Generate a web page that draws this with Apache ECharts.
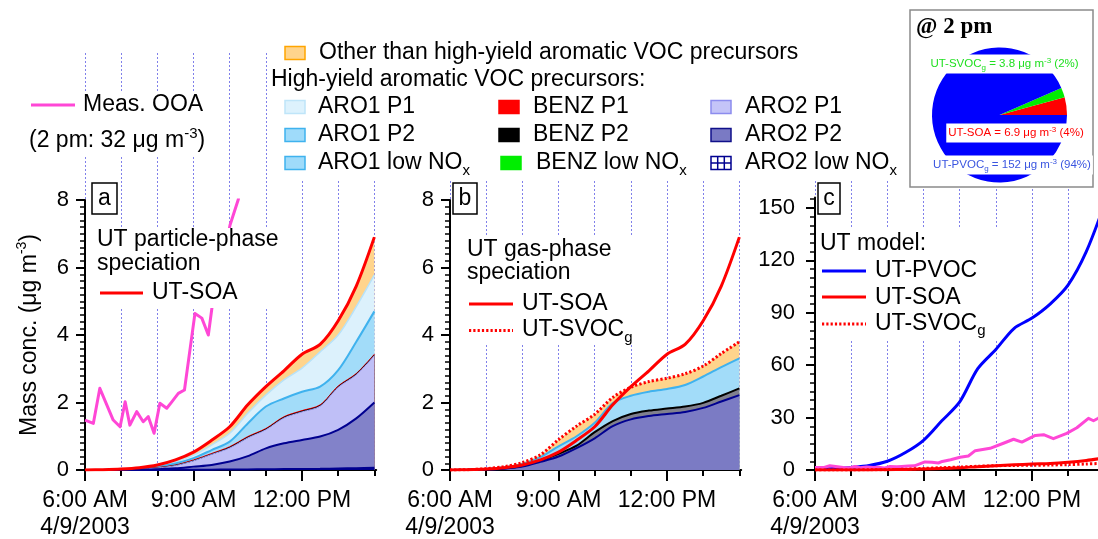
<!DOCTYPE html>
<html><head><meta charset="utf-8">
<script src="https://cdn.jsdelivr.net/npm/echarts@6/dist/echarts.min.js"></script>
<style>html,body{margin:0;padding:0;background:#fff}#c{width:1098px;height:539px}</style>
</head><body><div id="c"></div>
<script>
// ---- time (hours of day, 4/9/2003) ----
const T = [6,6.5,7,7.5,8,8.5,9,9.5,10,10.5,11,11.5,12,12.5,13,13.5,14];

// ---- panel a: UT particle-phase speciation (cumulative layer tops, ug m-3) ----
const UT_SOA     = [0,0.01,0.03,0.07,0.15,0.30,0.53,0.88,1.28,1.93,2.47,2.94,3.43,3.72,4.42,5.45,6.9];
const A_ARO1_P1  = [0,0.01,0.02,0.05,0.11,0.24,0.44,0.74,1.09,1.68,2.22,2.67,3.02,3.50,4.00,4.84,5.78];
const A_ARO1_P2  = [0,0.005,0.015,0.04,0.09,0.19,0.35,0.59,0.84,1.38,1.88,2.12,2.32,2.47,2.96,3.80,4.70];
const A_BENZ_P1  = [0,0.004,0.012,0.03,0.07,0.15,0.30,0.49,0.69,0.99,1.23,1.58,1.76,1.93,2.49,2.86,3.43];
const A_BENZ_P2  = [0,0.004,0.011,0.028,0.065,0.14,0.28,0.47,0.67,0.97,1.21,1.56,1.74,1.91,2.47,2.84,3.41];
const A_ARO2_P1  = [0,0.003,0.01,0.025,0.06,0.13,0.27,0.46,0.65,0.95,1.19,1.54,1.72,1.89,2.45,2.82,3.39];
const A_ARO2_P2  = [0,0.001,0.004,0.01,0.02,0.05,0.10,0.15,0.25,0.41,0.64,0.79,0.89,0.99,1.19,1.53,2.0];
const A_ARO2_LOW = [0,0,0,0,0.002,0.004,0.006,0.01,0.014,0.018,0.022,0.026,0.03,0.035,0.045,0.055,0.07];

// ---- panel b: UT gas-phase speciation (cumulative layer tops) ----
const UT_SVOC    = [0,0.01,0.04,0.10,0.22,0.45,0.90,1.30,1.65,2.15,2.45,2.62,2.72,2.85,3.08,3.45,3.8];
const B_ARO1     = [0,0.01,0.03,0.08,0.18,0.38,0.70,1.00,1.40,1.98,2.20,2.32,2.40,2.52,2.77,3.05,3.31];
const B_BENZ_P2  = [0,0.005,0.02,0.05,0.12,0.28,0.48,0.72,1.12,1.45,1.66,1.76,1.82,1.88,1.99,2.20,2.42];
const B_ARO2_P2  = [0,0.005,0.015,0.04,0.10,0.24,0.40,0.65,0.94,1.30,1.50,1.60,1.66,1.72,1.84,2.03,2.22];

// ---- panel c: UT model ----
const UT_PVOC    = [0.5,0.8,1.5,2.6,5,10,17,28,39,58,69,81,87,95,106,125,152];

// ---- measured OOA ----
const OOA_T = [6.0,6.23,6.41,6.78,6.97,7.11,7.24,7.43,7.61,7.75,7.91,8.07,8.26,8.40,8.58,8.75,9.04,9.23,9.41,9.52,9.75,10.01,10.24,10.43,10.84,11.21,11.49,11.72,12.09,12.32,12.59,12.96,13.24,13.56,13.70,13.83,14.0];
const OOA_V = [1.48,1.38,2.42,1.48,1.28,2.02,1.33,1.73,1.43,1.58,1.09,1.98,1.83,2.02,2.27,2.37,4.64,4.50,4.00,4.89,5.9,7.26,8.02,11.07,12.4,15.3,17.6,16.0,19.8,20.2,17.9,21.0,24.2,29.6,28.2,29.6,32];

// ---- axis tick labels ----
const X_LABELS = {6: '6:00 AM\n4/9/2003', 9: '9:00 AM', 12: '12:00 PM'};
const X_LABEL_VALUES = [6, 9, 12];
const X_HOUR_TICKS = [6,7,8,9,10,11,12,13,14];
const C_TICKS = [0,30,60,90,120,150];

const FF = '"Liberation Sans", Arial, Helvetica, sans-serif';
const SERIF = '"Liberation Serif", "Times New Roman", serif';
const ORANGE = '#ffd48c';
const SM = 0.3;
const pair = (xs, ys) => xs.map((x, i) => [x, ys[i]]);
const last = a => a[a.length - 1];

function xMain(gi) {
  return {type:'value', gridIndex:gi, position:'bottom', min:6, max:14.05,
    axisLine:{show:true, onZero:false, lineStyle:{color:'#000', width:2}},
    axisTick:{show:true, customValues:X_LABEL_VALUES, length:11, lineStyle:{color:'#000', width:2}},
    axisLabel:{show:true, customValues:X_LABEL_VALUES, formatter:v => X_LABELS[v] || '', color:'#000', fontSize:23, fontFamily:FF, margin:17, lineHeight:27},
    splitLine:{show:false}};
}
function xMinor(gi) {
  return {type:'value', gridIndex:gi, position:'bottom', min:6, max:14.05,
    axisLine:{show:false}, axisTick:{show:true, customValues:X_HOUR_TICKS, length:6, lineStyle:{color:'#000', width:2}},
    axisLabel:{show:false}, splitLine:{show:false}};
}
function xGridLines(gi) {
  return {type:'value', gridIndex:gi, position:'bottom', min:6, max:14, interval:1,
    axisLine:{show:false}, axisTick:{show:false}, axisLabel:{show:false},
    splitLine:{show:true, lineStyle:{color:'#8080ea', type:[2,2], width:1}}};
}
function yAB(gi, withName) {
  const o = {type:'value', gridIndex:gi, position:'left', min:0, max:8, interval:2,
    axisLine:{show:true, onZero:false, lineStyle:{color:'#000', width:2}},
    axisTick:{show:true, length:9, lineStyle:{color:'#000', width:2}},
    minorTick:{show:true, splitNumber:10, length:5, lineStyle:{color:'#000', width:1.5}},
    axisLabel:{color:'#000', fontSize:22, fontFamily:FF, margin:16},
    splitLine:{show:false}, minorSplitLine:{show:false}};
  if (withName) {
    o.name = '{n|Mass conc. (μg m}{s|-3}{n|)}';
    o.nameLocation = 'middle';
    o.nameGap = 40;
    o.nameTextStyle = {color:'#000', fontFamily:FF, fontSize:23, rich:{
      n:{fontSize:23, lineHeight:30, fontFamily:FF, color:'#000'},
      s:{fontSize:14, lineHeight:14, verticalAlign:'top', fontFamily:FF, color:'#000'}}};
  }
  return o;
}
const C_MINOR = [];
for (let v = 0; v <= 155; v += 5) C_MINOR.push(v);

function area(data, xi, yi, fill, line, lw) {
  return {type:'line', xAxisIndex:xi, yAxisIndex:yi, data:pair(T, data), symbol:'none', smooth:SM,
    silent:true, lineStyle:{color:line, width:lw || 1, opacity: lw === 0 ? 0 : 1},
    areaStyle:{color:fill, opacity:1, origin:'start'}, z:2};
}
function curve(xs, data, xi, yi, color, dashed, smooth) {
  return {type:'line', xAxisIndex:xi, yAxisIndex:yi, data:pair(xs, data), symbol:'none', smooth: smooth ? SM : false,
    silent:true, lineStyle:{color, width:3, type: dashed ? [2.2, 2.1] : 'solid', join:'round'}, z:3};
}

// ---- graphic helpers (legend / annotations) ----
function rich(fill, small) {
  return {
    sub:{fontSize:small, lineHeight:small, verticalAlign:'bottom', fontFamily:FF, fill},
    sup:{fontSize:small, lineHeight:small, verticalAlign:'top', fontFamily:FF, fill}
  };
}
function txt(x, y, text, o) {
  o = o || {};
  const size = o.size || 23, fill = o.fill || '#000';
  const st = {text, fill, fontSize:size, fontFamily:o.family || FF, fontWeight:o.weight || 'normal',
    align:o.align || 'left', verticalAlign:'middle', lineHeight:o.lh || 30, rich:rich(fill, o.small || 15)};
  if (o.bg) { st.backgroundColor = o.bg; st.padding = o.pad || [1, 2]; }
  return {type:'text', x, y, z:o.z || 7, silent:true, style:st};
}
function rect(x, y, w, h, fill, stroke, lw, z) {
  return {type:'rect', shape:{x, y, width:w, height:h}, silent:true,
    style:{fill, stroke: stroke || null, lineWidth: lw || 0}, z: z == null ? 5 : z};
}
function seg(x1, x2, y, color, dashed) {
  return {type:'line', shape:{x1, y1:y, x2, y2:y}, silent:true, z:7,
    style:{stroke:color, lineWidth:3, lineDash: dashed ? [2.2, 2.1] : null}};
}
function swatch(x, y, fill, stroke) { return rect(x, y - 6.5, 20, 13, fill, stroke, 1.5, 7); }
function gridSwatch(x, y) {
  const c = '#000090';
  return {type:'group', z:7, silent:true, children:[
    rect(x, y - 6.5, 20, 13, '#fff', c, 1.5, 7),
    {type:'line', z:7, shape:{x1:x + 6.7, y1:y - 6.5, x2:x + 6.7, y2:y + 6.5}, style:{stroke:c, lineWidth:1.5}},
    {type:'line', z:7, shape:{x1:x + 13.3, y1:y - 6.5, x2:x + 13.3, y2:y + 6.5}, style:{stroke:c, lineWidth:1.5}},
    {type:'line', z:7, shape:{x1:x, y1:y, x2:x + 20, y2:y}, style:{stroke:c, lineWidth:1.5}}
  ]};
}
function letterBox(x, w, letter) {
  return [rect(x, 183, w, 31, '#fff', '#000', 1.5, 6), txt(x + w / 2, 198.5, letter, {align:'center'})];
}

const ROW = [107, 135, 163];
const graphics = [
  // white backing of text blocks
  rect(268, 35, 637, 145, '#fff'),
  rect(25, 92, 187, 63, '#fff'),
  rect(94, 228, 188, 80, '#fff'),
  rect(463, 237, 180, 106, '#fff'),
  rect(818, 228, 180, 112, '#fff'),
  // top legend
  swatch(285, 53, ORANGE, '#ffa500'),
  txt(319, 53, 'Other than high-yield aromatic VOC precursors'),
  txt(271, 80, 'High-yield aromatic VOC precursors:'),
  swatch(285, ROW[0], '#ddf2fd', '#bfe5f9'), txt(318, ROW[0], 'ARO1 P1'),
  swatch(285, ROW[1], '#9fdbfa', '#3fb2ee'), txt(318, ROW[1], 'ARO1 P2'),
  swatch(285, ROW[2], '#9fdbfa', '#3fb2ee'), txt(318, ROW[2], 'ARO1 low NO{sub|x}'),
  swatch(499, ROW[0], '#ff0000', '#ff0000'), txt(533, ROW[0], 'BENZ P1'),
  swatch(499, ROW[1], '#000000', '#000000'), txt(533, ROW[1], 'BENZ P2'),
  swatch(501, ROW[2], '#00ee00', '#00ee00'), txt(536, ROW[2], 'BENZ low NO{sub|x}'),
  swatch(711, ROW[0], '#c4c4f8', '#8c8cee'), txt(745, ROW[0], 'ARO2 P1'),
  swatch(711, ROW[1], '#7a7ac4', '#10108a'), txt(745, ROW[1], 'ARO2 P2'),
  gridSwatch(711, ROW[2]), txt(745, ROW[2], 'ARO2 low NO{sub|x}'),
  // measured OOA legend
  seg(31, 75, 105, '#ff47d6'),
  txt(83, 104.5, 'Meas. OOA'),
  txt(29, 141, '(2 pm: ' + last(OOA_V) + ' μg m{sup|-3})'),
  // panel boxes
  ...letterBox(92, 25, 'a'), ...letterBox(453, 24, 'b'), ...letterBox(818, 22, 'c'),
  // panel a legend
  txt(97, 240, 'UT particle-phase'), txt(97, 264, 'speciation'),
  seg(100, 143, 293, '#ff0000'), txt(152, 293, 'UT-SOA'),
  // panel b legend
  txt(467, 250, 'UT gas-phase'), txt(467, 273, 'speciation'),
  seg(469, 513, 304, '#ff0000'), txt(522, 304, 'UT-SOA'),
  seg(469, 513, 330.5, '#ff0000', true), txt(522, 330, 'UT-SVOC{sub|g}'),
  // panel c legend
  txt(820, 244, 'UT model:'),
  seg(822, 866, 271, '#0000ff'), txt(875, 270.5, 'UT-PVOC'),
  seg(822, 866, 297, '#ff0000'), txt(875, 297.5, 'UT-SOA'),
  seg(822, 866, 324, '#ff0000', true), txt(875, 323.5, 'UT-SVOC{sub|g}'),
  // inset
  rect(910, 10, 183, 177, '#fff', '#8a8a8a', 1.5, 1),
  txt(916, 27, '@ 2 pm', {family:SERIF, weight:'bold', size:23}),
  txt(1004.5, 64, 'UT-SVOC{sub|g} = ' + last(UT_SVOC) + ' μg m{sup|-3} (2%)', {size:11.5, lh:15, small:8, fill:'#22e022', align:'center', bg:'#fff', pad:[2,2]}),
  txt(1016, 133, 'UT-SOA = ' + last(UT_SOA) + ' μg m{sup|-3} (4%)', {size:11.5, lh:15, small:8, fill:'#ff0000', align:'center', bg:'#fff', pad:[2,2]}),
  txt(1012, 165, 'UT-PVOC{sub|g} = ' + last(UT_PVOC) + ' μg m{sup|-3} (94%)', {size:11.5, lh:15, small:8, fill:'#3a55e0', align:'center', bg:'#fff', pad:[2,2]})
];

const W = 8.05 * 36.17, WG = 8 * 36.17;
const option = {
  animation:false,
  backgroundColor:'#fff',
  grid:[
    {left:85, top:200, width:W, height:270, outerBoundsMode:'none'},
    {left:450, top:200, width:W, height:270, outerBoundsMode:'none'},
    {left:815, top:197.5, width:W, height:272.5, outerBoundsMode:'none'},
    {left:85, top:53, width:WG, height:417, outerBoundsMode:'none'},
    {left:450, top:53, width:WG, height:417, outerBoundsMode:'none'},
    {left:815, top:53, width:WG, height:417, outerBoundsMode:'none'}
  ],
  xAxis:[xMain(0), xMinor(0), xMain(1), xMinor(1), xMain(2), xMinor(2), xGridLines(3), xGridLines(4), xGridLines(5)],
  yAxis:[
    yAB(0, true), yAB(1, false),
    {type:'value', gridIndex:2, position:'left', min:0, max:156, interval:30,
      axisLine:{show:true, onZero:false, lineStyle:{color:'#000', width:2}},
      axisTick:{show:true, customValues:C_TICKS, length:9, lineStyle:{color:'#000', width:2}},
      axisLabel:{customValues:C_TICKS, color:'#000', fontSize:22, fontFamily:FF, margin:20},
      splitLine:{show:false}},
    {type:'value', gridIndex:2, position:'left', min:0, max:156,
      axisLine:{show:false}, axisTick:{show:true, customValues:C_MINOR, length:5, lineStyle:{color:'#000', width:1.5}},
      axisLabel:{show:false}, splitLine:{show:false}},
    {type:'value', gridIndex:3, show:false, min:0, max:1},
    {type:'value', gridIndex:4, show:false, min:0, max:1},
    {type:'value', gridIndex:5, show:false, min:0, max:1}
  ],
  graphic:{elements:graphics},
  series:[
    // panel a stacked composition (drawn top layer first)
    area(UT_SOA, 0, 0, ORANGE, ORANGE, 0),
    area(A_ARO1_P1, 0, 0, '#dcf1fc', '#b8e2f8', 1.5),
    area(A_ARO1_P2, 0, 0, '#a2dcf9', '#3fb2ee', 2),
    area(A_BENZ_P1, 0, 0, '#ff0000', '#ff0000', 1),
    area(A_BENZ_P2, 0, 0, '#000000', '#000000', 1),
    area(A_ARO2_P1, 0, 0, '#bfbff7', '#a0a0f0', 1),
    area(A_ARO2_P2, 0, 0, '#8282c9', '#000090', 2),
    area(A_ARO2_LOW, 0, 0, '#000090', '#000090', 2),
    curve(OOA_T, OOA_V, 0, 0, '#ff47d6', false, false),
    curve(T, UT_SOA, 0, 0, '#ff0000', false, true),
    // panel b
    area(UT_SVOC, 2, 1, ORANGE, ORANGE, 0),
    area(B_ARO1, 2, 1, '#a2dcf9', '#3fb2ee', 2),
    area(B_BENZ_P2, 2, 1, '#80808e', '#000000', 2),
    area(B_ARO2_P2, 2, 1, '#7b7bc4', '#000090', 2),
    curve(T, UT_SOA, 2, 1, '#ff0000', false, true),
    curve(T, UT_SVOC, 2, 1, '#ff0000', true, true),
    // panel c
    curve(T, UT_PVOC, 4, 2, '#0000ff', false, true),
    curve(OOA_T, OOA_V, 4, 2, '#ff47d6', false, false),
    curve(T, UT_SOA, 4, 2, '#ff0000', false, true),
    curve(T, UT_SVOC, 4, 2, '#ff0000', true, true),
    // inset pie at 2 pm
    {type:'pie', center:[999.5, 115], radius:67.5, startAngle:0, clockwise:false, silent:true, z:3,
      label:{show:false}, labelLine:{show:false}, itemStyle:{borderWidth:0},
      data:[
        {name:'UT-SOA', value:last(UT_SOA), itemStyle:{color:'#ff0000'}},
        {name:'UT-SVOCg', value:last(UT_SVOC), itemStyle:{color:'#00ee00'}},
        {name:'UT-PVOCg', value:last(UT_PVOC), itemStyle:{color:'#0000ff'}}
      ]}
  ]
};
const chart = echarts.init(document.getElementById('c'), null, {renderer:'canvas'});
chart.setOption(option);
</script>
</body></html>
